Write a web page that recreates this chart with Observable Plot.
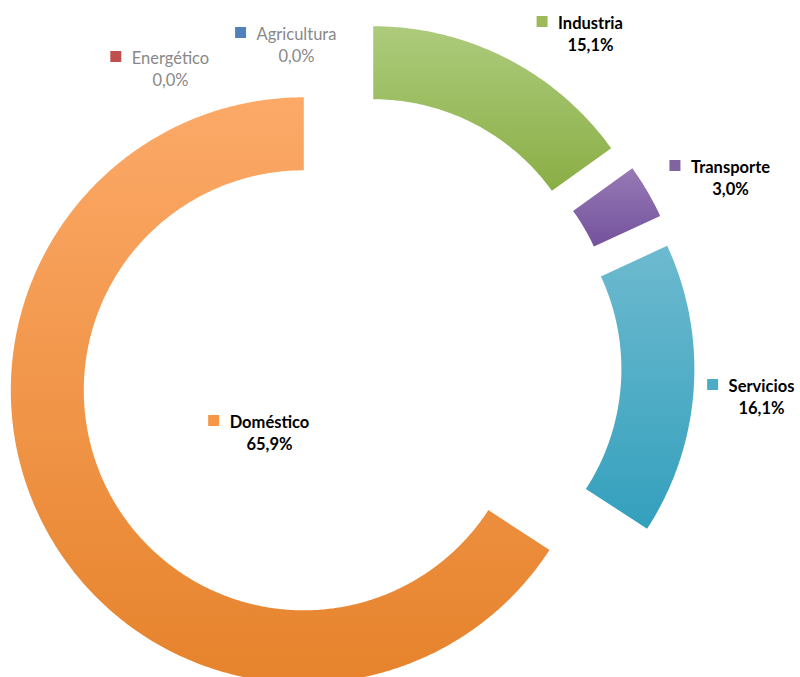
<!DOCTYPE html>
<html><head><meta charset="utf-8">
<script src="https://cdn.jsdelivr.net/npm/d3@7"></script>
<script src="https://cdn.jsdelivr.net/npm/@observablehq/plot@0.6"></script>
<style>html,body{margin:0;padding:0;background:#fff}#chart svg{display:block}</style>
</head><body><div id="chart"></div>
<script>
// ---- data ----
const categories = ["Energético", "Agricultura", "Industria", "Transporte", "Servicios", "Doméstico"];
const values = [0.0, 0.0, 15.1, 3.0, 16.1, 65.9];
const valueLabels = ["0,0%", "0,0%", "15,1%", "3,0%", "16,1%", "65,9%"];

// ---- styles ----
const baseColors = ["#C0504D", "#4F81BD", "#9BBB59", "#8064A2", "#4BACC6", "#F79646"];
const gradTop    = ["#CD6F6C", "#6F98CC", "#ADCB7C", "#9779B5", "#6DBACF", "#FCA968"];
const gradBottom = ["#B0403D", "#3F70AD", "#8AAE45", "#74529D", "#34A0BD", "#E6832C"];

// ---- layout (pixels) ----
const W = 800, H = 677;
const CX = 349, CY = 365;          // pie centre
const R_OUT = 293, R_IN = 220;     // ring radii
const EXPLODE = 52;                // slice explosion
const FONT = "Lato";
const FS = 16.5;
// label anchor: centre of name text (x) and baseline of name (y), pixels
const labelLayout = [
  {x: 170, y: 63},   // Energético
  {x: 296, y: 39},   // Agricultura
  {x: 590, y: 28},   // Industria
  {x: 730, y: 172},  // Transporte
  {x: 761, y: 391},  // Servicios
  {x: 269, y: 427}   // Doméstico
];
const LINE_GAP = 22.5;

const rows = categories.map((c, i) => ({category: c, value: values[i], label: valueLabels[i], i}));
const arcs = d3.pie().sort(null).value(d => d.value).startAngle(0).endAngle(2 * Math.PI)(rows);

function ringPolygon(a) {
  const mid = (a.startAngle + a.endAngle) / 2;
  const ox = EXPLODE * Math.sin(mid), oy = EXPLODE * Math.cos(mid);
  const n = Math.max(2, Math.ceil((a.endAngle - a.startAngle) / (Math.PI / 360)));
  const pts = [];
  for (let k = 0; k <= n; k++) {
    const t = a.startAngle + (a.endAngle - a.startAngle) * k / n;
    pts.push({x: ox + R_OUT * Math.sin(t), y: oy + R_OUT * Math.cos(t)});
  }
  for (let k = n; k >= 0; k--) {
    const t = a.startAngle + (a.endAngle - a.startAngle) * k / n;
    pts.push({x: ox + R_IN * Math.sin(t), y: oy + R_IN * Math.cos(t)});
  }
  return pts;
}

// text measuring
const ctx = document.createElement("canvas").getContext("2d");
function textWidth(s, weight) { ctx.font = `${weight} ${FS}px ${FONT}`; return ctx.measureText(s).width; }

const labels = rows.map((r, i) => {
  const zero = r.value === 0;
  const weight = zero ? "normal" : "bold";
  const L = labelLayout[i];
  const w = textWidth(r.category, weight);
  return {
    ...r, zero, weight,
    nx: L.x - CX, ny: CY - L.y,
    vy: CY - (L.y + LINE_GAP),
    mx: L.x - w / 2 - 16 - CX,
    my: CY - (L.y - 7),
    color: baseColors[i],
    textColor: zero ? "#888888" : "#000000"
  };
});

// gradient defs mark
const defsMark = () => {
  const ns = "http://www.w3.org/2000/svg";
  const defs = document.createElementNS(ns, "defs");
  categories.forEach((c, i) => {
    const g = document.createElementNS(ns, "linearGradient");
    g.setAttribute("id", "grad" + i);
    g.setAttribute("x1", "0"); g.setAttribute("y1", "0");
    g.setAttribute("x2", "0"); g.setAttribute("y2", "1");
    [[0, gradTop[i]], [1, gradBottom[i]]].forEach(([o, col]) => {
      const s = document.createElementNS(ns, "stop");
      s.setAttribute("offset", o);
      s.setAttribute("stop-color", col);
      g.appendChild(s);
    });
    defs.appendChild(g);
  });
  return defs;
};

const sliceMarks = arcs.filter(a => a.data.value > 0).map(a =>
  Plot.line(ringPolygon(a), {x: "x", y: "y", curve: "linear-closed", fill: `url(#grad${a.data.i})`, stroke: "none"})
);

const chart = Plot.plot({
  width: W, height: H,
  margin: 0,
  x: {domain: [-CX, W - CX], range: [0, W], axis: null},
  y: {domain: [-(H - CY), CY], range: [H, 0], axis: null},
  style: {fontFamily: FONT, background: "#fff"},
  marks: [
    defsMark,
    ...sliceMarks,
    Plot.dot(labels, {x: "mx", y: "my", symbol: "square", r: 6.2, fill: "color", stroke: "none"}),
    Plot.text(labels.filter(d => !d.zero), {x: "nx", y: "ny", text: "category", textAnchor: "middle", lineAnchor: "bottom", fontSize: FS, fontWeight: "bold", fill: "textColor"}),
    Plot.text(labels.filter(d => !d.zero), {x: "nx", y: "vy", text: "label", textAnchor: "middle", lineAnchor: "bottom", fontSize: FS, fontWeight: "bold", fill: "textColor"}),
    Plot.text(labels.filter(d => d.zero), {x: "nx", y: "ny", text: "category", textAnchor: "middle", lineAnchor: "bottom", fontSize: FS, fontWeight: "normal", fill: "textColor"}),
    Plot.text(labels.filter(d => d.zero), {x: "nx", y: "vy", text: "label", textAnchor: "middle", lineAnchor: "bottom", fontSize: FS, fontWeight: "normal", fill: "textColor"})
  ]
});
document.getElementById("chart").appendChild(chart);
</script>
</body></html>
